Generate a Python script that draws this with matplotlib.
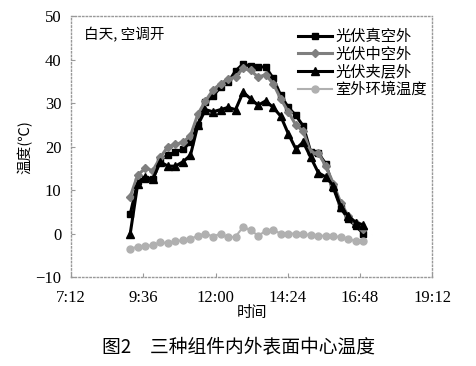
import matplotlib.pyplot as plt
from matplotlib.ticker import FixedLocator

plt.rcParams['font.family'] = ['Noto Sans CJK SC', 'DejaVu Sans']

# 采样时间 (每15分钟一次)
times = ['9:10', '9:25', '9:40', '9:55', '10:10', '10:25', '10:40', '10:55',
         '11:10', '11:25', '11:40', '11:55', '12:10', '12:25', '12:40', '12:55',
         '13:10', '13:25', '13:40', '13:55', '14:10', '14:25', '14:40', '14:55',
         '15:10', '15:25', '15:40', '15:55', '16:10', '16:25', '16:40', '16:55']

pv_vacuum = [4.5, 12, 12.5, 12.5, 17, 18, 18.7, 19.4, 21, 25, 30.2, 31.6,
             33.7, 34.8, 37.4, 39, 38.5, 38.3, 38.3, 35.7, 31.8, 29, 27.2, 24.7,
             18.7, 18.5, 16, 10.5, 5.8, 3.3, 1.7, 0]
pv_hollow = [8.5, 13.5, 15, 14.5, 17.5, 20, 20.5, 21, 22.5, 27.5, 30.5, 33,
             34.5, 35.5, 36, 38, 37.5, 36, 36.5, 34.5, 31, 28, 25, 23.5,
             18.5, 18.5, 15.5, 11.5, 7, 4, 2.5, 1]
pv_sandwich = [0, 11.5, 13, 12.5, 16.5, 15.5, 15.5, 16.5, 18, 25, 28.5, 28,
               28.5, 29, 28.5, 32.5, 31, 29.5, 30.5, 29, 27, 23, 19.5, 21,
               17.5, 14, 13, 11, 6, 4, 2.5, 2]
outdoor = [-3.5, -3, -2.8, -2.7, -2, -2.2, -1.8, -1.5, -1.2, -0.5, 0, -0.7,
           0, -0.9, -0.7, 1.5, 0.8, -0.5, 0.6, 0.8, 0, 0, 0, -0.2,
           -0.3, -0.5, -0.5, -0.6, -0.8, -1.2, -1.8, -1.8]

xtick_labels = ['7:12', '9:36', '12:00', '14:24', '16:48', '19:12']
series_names = ['光伏真空外', '光伏中空外', '光伏夹层外', '室外环境温度']


def to_hours(s):
    h, m = s.split(':')
    return int(h) + int(m) / 60.0


x = [to_hours(t) for t in times]
xticks = [to_hours(t) for t in xtick_labels]

fig = plt.figure(figsize=(4.77, 3.66), dpi=100)
ax = fig.add_axes([0.149, 0.243, 0.757, 0.713])

ax.plot(x, pv_vacuum, color='black', lw=2.2, marker='s', ms=5, label=series_names[0])
ax.plot(x, pv_hollow, color='#7f7f7f', lw=2.2, marker='D', ms=4, label=series_names[1])
ax.plot(x, pv_sandwich, color='black', lw=2.2, marker='^', ms=6, label=series_names[2])
ax.plot(x, outdoor, color='#b0b0b0', lw=1.5, marker='o', ms=5, label=series_names[3])

ax.set_xlim(xticks[0], xticks[-1])
ax.set_ylim(-10, 50)
ax.xaxis.set_major_locator(FixedLocator(xticks))
ax.set_xticklabels(xtick_labels)
ax.set_yticks([-10, 0, 10, 20, 30, 40, 50])
ax.tick_params(direction='in', length=3, color='#999999', labelsize=12)
ax.tick_params(axis='x', pad=9)
ax.tick_params(axis='y', pad=7)
for lab in ax.get_xticklabels() + ax.get_yticklabels():
    lab.set_family(['Liberation Serif', 'DejaVu Serif'])

# 虚线边框
for sp in ax.spines.values():
    sp.set_linestyle(':')
    sp.set_color('#999999')
    sp.set_linewidth(1)

ax.set_xlabel('时间', fontsize=11, labelpad=-1)
ax.set_ylabel('温度(℃)', fontsize=10.5, labelpad=2)
ax.text(0.035, 0.93, '白天, 空调开', transform=ax.transAxes, fontsize=10.5,
        va='center', ha='left')

leg = ax.legend(loc='upper right', bbox_to_anchor=(1.01, 0.99), frameon=False,
                fontsize=11, handlelength=2.2, handletextpad=0.2,
                labelspacing=0.05, borderaxespad=0.2)

fig.text(0.5, 0.052, '图2　三种组件内外表面中心温度', ha='center', va='center',
         fontsize=13.5)

fig.savefig('out.png', dpi=100)
